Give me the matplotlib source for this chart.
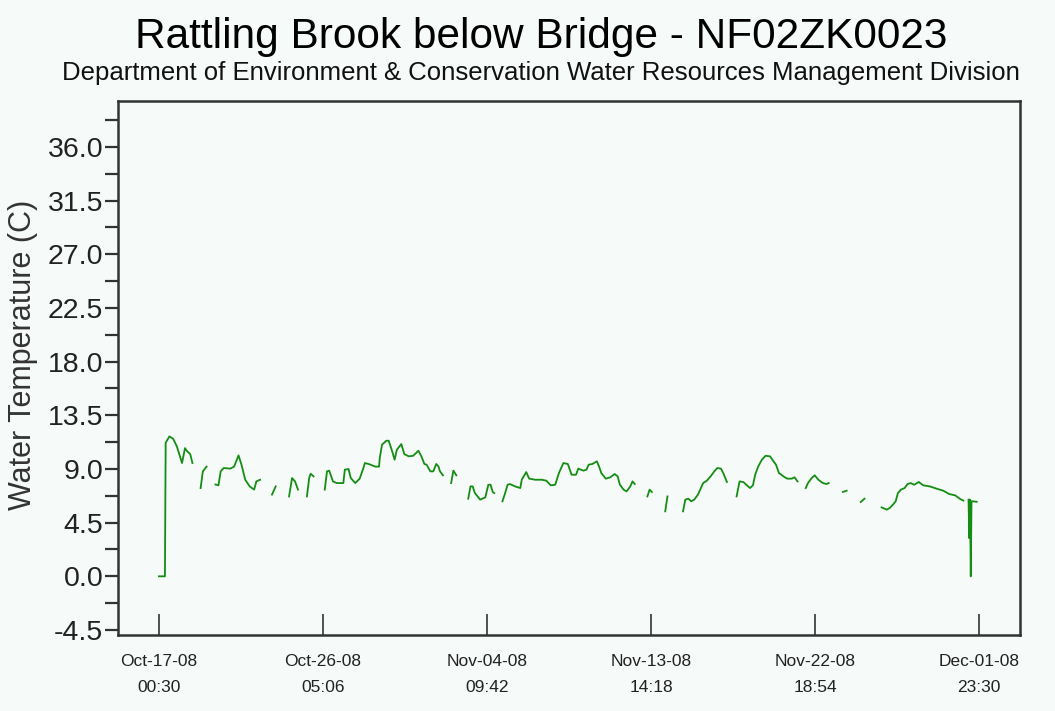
import datetime as dt
import numpy as np
import matplotlib
matplotlib.use("Agg")
import matplotlib.pyplot as plt
from matplotlib.ticker import MultipleLocator

nan = np.nan

# hours after Oct-17-08 00:30, water temperature (C); nan = gap in record
hours = [0, 8, 9, 14, 19, 24, 31, 35, 38, 42, 45, 50,
         56, 59, 64, 70,
         76, 80, 83, 87, 96, 101, 107, 111, 116, 122, 128, 131, 136, 144,
         152, 157, 166,
         175, 179, 183, 187, 193,
         199, 202, 204, 208, 215,
         223, 226, 229, 234, 239, 248, 250, 255, 258, 264, 270, 275, 277, 282,
         291, 296, 297, 300, 306, 309, 313, 317, 320, 326, 330, 336, 342, 349,
         353, 357, 360, 365, 369, 373, 376, 378, 382, 388,
         393, 396, 400, 408,
         416, 419, 422, 425, 432, 439, 443, 446, 449, 451, 456,
         462, 465, 469, 472, 479, 486, 488, 494, 498, 506, 515, 521, 527, 533,
         538, 544, 550, 555, 561, 564, 571, 575, 578, 583, 589, 592, 595, 601,
         607, 613, 617, 620, 625, 629, 634, 637, 640, 648,
         657, 660, 663, 670,
         681, 683, 684, 695,
         705, 708, 712, 716, 720, 725, 728, 732, 737, 742, 747, 751, 756, 759,
         764, 770,
         777, 781, 786, 791, 795, 799, 802, 806, 811, 816, 822, 826, 830, 834,
         840, 845, 851, 855, 859, 865,
         870, 873, 878, 882, 887, 893, 898, 901, 910,
         920, 925, 935,
         944, 949, 960,
         972, 979, 983, 988, 991, 994, 998, 1003, 1007, 1011, 1016, 1022, 1028,
         1037, 1046, 1055, 1063, 1071, 1077, 1082, 1086,
         1089, 1090, 1091, 1092, 1093, 1100]

temps = [0.0, 0.0, 11.2, 11.73, 11.54, 10.9, 9.5, 10.75, 10.48, 10.25, 9.5, nan,
         7.4, 8.8, 9.2, nan,
         7.7, 7.63, 8.8, 9.08, 9.03, 9.2, 10.14, 9.36, 8.1, 7.54, 7.27, 7.96, 8.1, nan,
         6.85, 7.54, nan,
         6.7, 8.24, 7.96, 7.27, nan,
         6.7, 8.24, 8.6, 8.38, nan,
         7.27, 8.8, 8.86, 7.96, 7.82, 7.82, 8.94, 9.0, 8.24, 7.82, 8.19, 9.08, 9.5, 9.42,
         9.2, 9.2, 9.92, 11.04, 11.37, 11.37, 10.62, 9.78, 10.62, 11.09, 10.25, 10.06, 10.11, 10.53,
         10.06, 9.42, 9.36, 8.8, 8.8, 9.42, 9.2, 8.8, 8.47, nan,
         7.82, 8.86, 8.47, nan,
         6.51, 7.54, 7.54, 6.98, 6.43, 6.62, 7.68, 7.68, 7.07, 6.98, nan,
         6.29, 6.85, 7.68, 7.74, 7.54, 7.4, 8.1, 8.74, 8.19, 8.1, 8.1, 8.02, 7.63, 7.68,
         8.66, 9.5, 9.42, 8.52, 8.52, 9.03, 8.86, 8.94, 9.36, 9.42, 9.64, 9.2, 8.66, 8.19,
         8.3, 8.58, 8.38, 7.68, 7.27, 7.12, 7.54, 7.96, 7.74, nan,
         6.7, 7.27, 7.07, nan,
         5.45, 6.29, 6.7, nan,
         5.45, 6.43, 6.51, 6.29, 6.43, 6.85, 7.27, 7.82, 8.02, 8.38, 8.8, 9.08, 9.03, 8.66,
         7.91, nan,
         6.7, 7.96, 7.91, 7.63, 7.4, 7.63, 8.52, 9.2, 9.78, 10.11, 10.06, 9.7, 9.36, 8.66,
         8.38, 8.19, 8.19, 8.3, 7.96, nan,
         7.4, 7.82, 8.24, 8.47, 8.1, 7.82, 7.74, 7.82, nan,
         7.07, 7.18, nan,
         6.23, 6.51, nan,
         5.78, 5.59, 5.73, 6.06, 6.29, 6.98, 7.27, 7.4, 7.74, 7.82, 7.68, 7.91, 7.63,
         7.54, 7.35, 7.18, 6.9, 6.79, 6.51, 6.35, nan,
         6.43, 3.2, 6.43, 0.0, 6.3, 6.25]

start = dt.datetime(2008, 10, 17, 0, 30)
end = dt.datetime(2008, 12, 1, 23, 30)
tick_labels = ["Oct-17-08\n00:30", "Oct-26-08\n05:06", "Nov-04-08\n09:42",
               "Nov-13-08\n14:18", "Nov-22-08\n18:54", "Dec-01-08\n23:30"]
times = [start + dt.timedelta(hours=h) for h in hours]

bg = "#f6faf8"
fig = plt.figure(figsize=(10.55, 7.11), dpi=100, facecolor=bg)
ax = fig.add_axes([0.1118, 0.1069, 0.8550, 0.7511], facecolor=bg)

ax.plot(times, temps, color="#138e13", linewidth=1.3)

ax.set_ylim(-4.92, 39.86)
ax.yaxis.set_minor_locator(MultipleLocator(2.25))
yt = np.arange(-4.5, 36.1, 4.5)
ax.set_yticks(yt)
ax.set_yticklabels(["%.1f" % v for v in yt],
                   family="Liberation Sans", fontsize=20.5, color="#222222")
ax.tick_params(axis="y", which="both", direction="out", length=9.5, width=1.6,
               color="#333333", pad=1)

span = end - start
pad = dt.timedelta(hours=55.2)
ax.set_xlim(start - pad, end + pad)
xt = [start + span * i / 5 for i in range(6)]
ax.set_xticks(xt)
ax.set_xticklabels(tick_labels, family="Liberation Sans",
                   fontsize=12.5, linespacing=1.85, color="#222222")
ax.tick_params(axis="x", which="both", direction="in", length=15, width=1.2,
               color="#333333", pad=14)

for s in ax.spines.values():
    s.set_linewidth(1.8)
    s.set_color("#333333")

ax.set_ylabel("Water Temperature (C)", family="Liberation Sans", fontsize=22,
              color="#333333")
ax.yaxis.set_label_coords(-0.089, 0.524)

fig.text(0.513, 0.932, "Rattling Brook below Bridge - NF02ZK0023",
         ha="center", va="baseline", family="Liberation Sans", fontsize=30.5)
fig.text(0.513, 0.888,
         "Department of Environment & Conservation Water Resources Management Division",
         ha="center", va="baseline", family="Liberation Sans", fontsize=18.5,
         color="#111111")

fig.savefig("out.png", dpi=100, facecolor=bg)
